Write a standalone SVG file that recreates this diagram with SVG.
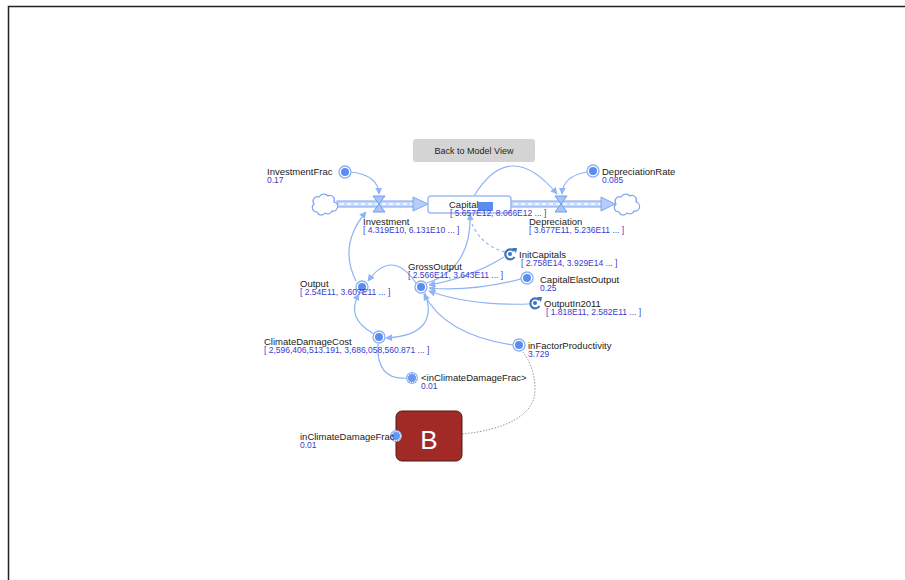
<svg xmlns="http://www.w3.org/2000/svg" width="905" height="580" viewBox="0 0 905 580">
<style>
.lbl{font-family:"Liberation Sans",Arial,sans-serif;font-size:9.5px;fill:#1a1a1a}
.val{font-family:"Liberation Sans",Arial,sans-serif;font-size:8.5px;fill:#3a3ad0}
.btn{font-family:"Liberation Sans",Arial,sans-serif;font-size:9px;fill:#222}
.con{fill:none;stroke:#8fb4f5;stroke-width:1.2}
.dash{fill:none;stroke:#8fb4f5;stroke-width:1.2;stroke-dasharray:3,3}
.aux-o{fill:#fff;stroke:#8ab0f3;stroke-width:1.3}
.aux-i{fill:#5b8def}
.pipe{fill:#c8dafc;stroke:#7fa6f1;stroke-width:1}
.pipec{stroke:#fff;stroke-width:1.5;stroke-dasharray:4,3}
.valve{fill:#a9c5f7;stroke:#6f9cf0;stroke-width:1}
.cloud{fill:#fff;stroke:#7fa6f1;stroke-width:1.2}
.ghost{fill:#6b98ef;stroke:#fff;stroke-width:1.2;stroke-dasharray:1,1}
.init{fill:none;stroke:#3f74b9;stroke-width:2.2}
</style>
<defs>
<marker id="arr" viewBox="0 0 10 10" refX="9" refY="5" markerWidth="7" markerHeight="7" orient="auto" markerUnits="userSpaceOnUse">
<path d="M0,0 L10,5 L0,10 z" fill="#8fb4f5"/>
</marker>
</defs>
<rect width="905" height="580" fill="#fff"/>
<path d="M8.5,580 V6.5 H905" fill="none" stroke="#222" stroke-width="1.5"/>

<g id="back-button">
<rect x="413" y="139" width="122" height="23" rx="3" fill="#d4d4d4"/>
<text class="btn" x="474" y="154" text-anchor="middle">Back to Model View</text>
</g>

<g id="connectors">
<path class="con" d="M351,172 Q378,175 379,194" marker-end="url(#arr)"/>
<path class="con" d="M587,172 Q563,176 562,194" marker-end="url(#arr)"/>
<path class="con" d="M474,196 Q510,137 557,194" marker-end="url(#arr)"/>
<path class="con" d="M356,281 Q338,245 366,212" marker-end="url(#arr)"/>
<path class="con" d="M416,283 Q392,248 368,281" marker-end="url(#arr)"/>
<path class="con" d="M425,293 Q440,335 386,338" marker-end="url(#arr)"/>
<path class="con" d="M374,334 Q345,318 359,294" marker-end="url(#arr)"/>
<path class="con" d="M406,378 Q376,380 378,344"/>
<path class="con" d="M504,257 Q470,278 429,285" marker-end="url(#arr)"/>
<path class="con" d="M521,279 Q470,292 429,288" marker-end="url(#arr)"/>
<path class="con" d="M529,304 Q470,306 429,291" marker-end="url(#arr)"/>
<path class="con" d="M513,345 Q445,335 424,294" marker-end="url(#arr)"/>
<path class="con" d="M427,283 Q472,268 470,214" marker-end="url(#arr)"/>
<path class="dash" d="M505,252 Q478,245 469,216"/>
<path d="M462,434 C505,430 535,415 535,390 C535,370 528,358 522,351" fill="none" stroke="#999" stroke-width="1" stroke-dasharray="1.5,1.5"/>
</g>

<g id="Investment-flow">
<rect class="pipe" x="337" y="201" width="78" height="6"/>
<line class="pipec" x1="340" y1="204" x2="413" y2="204"/>
<path d="M413,197 L428,204 L413,211 z" fill="#b5cdfa" stroke="#7fa6f1"/>
<path class="valve" d="M373,196 H385 L373,212 H385 z"/>
<text class="lbl" x="363" y="224.5">Investment</text>
<text class="val" x="363" y="233">[ 4.319E10, 6.131E10 ... ]</text>
</g>

<g id="Depreciation-flow">
<rect class="pipe" x="511" y="201" width="92" height="6"/>
<line class="pipec" x1="514" y1="204" x2="601" y2="204"/>
<path d="M601,197 L615,204 L601,211 z" fill="#b5cdfa" stroke="#7fa6f1"/>
<path class="valve" d="M555,196 H567 L555,212 H567 z"/>
<text class="lbl" x="529" y="224.5">Depreciation</text>
<text class="val" x="529" y="233">[ 3.677E11, 5.236E11 ... ]</text>
</g>

<g id="cloud-left">
<path class="cloud" d="M317,212 a4.5,4.5 0 0 1 -3,-8 a4.5,4.5 0 0 1 5,-7 a5.5,5.5 0 0 1 9,-1 a4.5,4.5 0 0 1 6,6 a4.5,4.5 0 0 1 -2,9 a4.5,4.5 0 0 1 -7,2 a4.5,4.5 0 0 1 -8,-1 z"/>
</g>
<g id="cloud-right">
<path class="cloud" d="M619,212 a4.5,4.5 0 0 1 -3,-8 a4.5,4.5 0 0 1 5,-7 a5.5,5.5 0 0 1 9,-1 a4.5,4.5 0 0 1 6,6 a4.5,4.5 0 0 1 -2,9 a4.5,4.5 0 0 1 -7,2 a4.5,4.5 0 0 1 -8,-1 z"/>
</g>

<g id="Capital">
<rect x="428" y="196" width="83" height="17" rx="3" fill="#fff" stroke="#9dbcf5" stroke-width="1.5"/>
<text class="lbl" x="449" y="207.5">Capital</text>
<rect x="478" y="202" width="15" height="9" fill="#5b8def"/>
<text class="val" x="450" y="216">[ 5.657E12, 8.066E12 ... ]</text>
</g>

<g id="InvestmentFrac">
<circle class="aux-o" cx="345" cy="172" r="6"/><circle class="aux-i" cx="345" cy="172" r="4"/>
<text class="lbl" x="267" y="174.5">InvestmentFrac</text>
<text class="val" x="267" y="183">0.17</text>
</g>

<g id="DepreciationRate">
<circle class="aux-o" cx="593" cy="171" r="6"/><circle class="aux-i" cx="593" cy="171" r="4"/>
<text class="lbl" x="602" y="174.5">DepreciationRate</text>
<text class="val" x="602" y="183">0.085</text>
</g>

<g id="InitCapitals">
<path class="init" d="M514,251 A5,5 0 1 0 514.5,257"/>
<path d="M512,248 L517,248 L516,253 z" fill="#3f74b9"/>
<circle cx="510" cy="254" r="2" fill="#3f74b9"/>
<text class="lbl" x="519" y="257.5">InitCapitals</text>
<text class="val" x="521" y="266">[ 2.758E14, 3.929E14 ... ]</text>
</g>

<g id="CapitalElastOutput">
<circle class="aux-o" cx="527" cy="278" r="6"/><circle class="aux-i" cx="527" cy="278" r="4"/>
<text class="lbl" x="540" y="282.5">CapitalElastOutput</text>
<text class="val" x="540" y="291">0.25</text>
</g>

<g id="OutputIn2011">
<path class="init" d="M539,300 A5,5 0 1 0 539.5,306"/>
<path d="M537,297 L542,297 L541,302 z" fill="#3f74b9"/>
<circle cx="535" cy="303" r="2" fill="#3f74b9"/>
<text class="lbl" x="544" y="306.5">OutputIn2011</text>
<text class="val" x="546" y="315">[ 1.818E11, 2.582E11 ... ]</text>
</g>

<g id="inFactorProductivity">
<circle class="aux-o" cx="519" cy="345" r="6"/><circle class="aux-i" cx="519" cy="345" r="4"/>
<text class="lbl" x="528" y="348.5">inFactorProductivity</text>
<text class="val" x="528" y="357">3.729</text>
</g>

<g id="GrossOutput">
<circle class="aux-o" cx="421" cy="287" r="6"/><circle class="aux-i" cx="421" cy="287" r="4"/>
<text class="lbl" x="408" y="269.5">GrossOutput</text>
<text class="val" x="408" y="278">[ 2.566E11, 3.643E11 ... ]</text>
</g>

<g id="Output">
<circle class="aux-o" cx="362" cy="287" r="6"/><circle class="aux-i" cx="362" cy="287" r="4"/>
<text class="lbl" x="300" y="286.5">Output</text>
<text class="val" x="300" y="295">[ 2.54E11, 3.607E11 ... ]</text>
</g>

<g id="ClimateDamageCost">
<circle class="aux-o" cx="379" cy="337" r="6"/><circle class="aux-i" cx="379" cy="337" r="4"/>
<text class="lbl" x="264" y="344.5">ClimateDamageCost</text>
<text class="val" x="264" y="353">[ 2,596,406,513.191, 3,686,058,560.871 ... ]</text>
</g>

<g id="inClimateDamageFrac-ghost">
<circle cx="412" cy="378" r="6" fill="#8ab0f3"/>
<circle class="ghost" cx="412" cy="378" r="4.5"/>
<text class="lbl" x="421" y="380.5">&lt;inClimateDamageFrac&gt;</text>
<text class="val" x="421" y="389">0.01</text>
</g>

<g id="B">
<rect x="396" y="411" width="66" height="50" rx="6" fill="#a22a26" stroke="#4a1a18" stroke-width="1"/>
<text x="429" y="449" text-anchor="middle" font-family="Liberation Sans,Arial,sans-serif" font-size="26" fill="#fff">B</text>
</g>

<g id="inClimateDamageFrac">
<circle cx="396" cy="436" r="6" fill="#8ab0f3"/>
<circle class="ghost" cx="396" cy="436" r="4.5"/>
<text class="lbl" x="300" y="439.5">inClimateDamageFrac</text>
<text class="val" x="300" y="448">0.01</text>
</g>
</svg>
